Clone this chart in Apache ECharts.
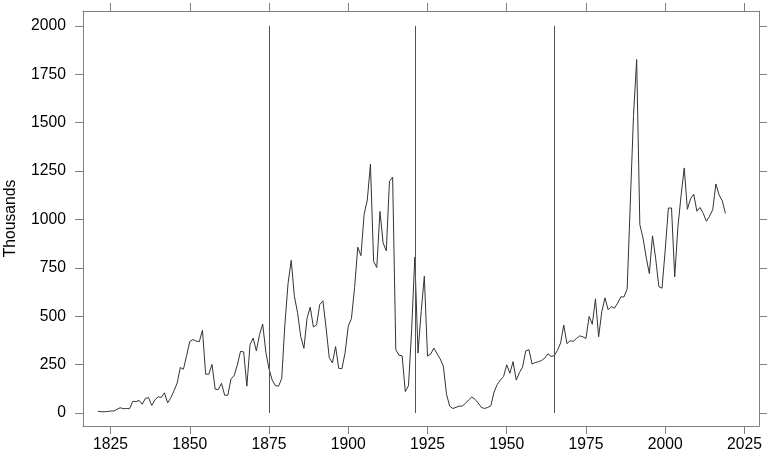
<!DOCTYPE html>
<html>
<head>
<meta charset="utf-8">
<script src="https://cdn.jsdelivr.net/npm/echarts@6/dist/echarts.min.js"></script>
<style>
  html, body { margin: 0; padding: 0; background: #fff; }
  #chart-container { width: 771px; height: 451px; }
</style>
</head>
<body>
<div id="chart-container"></div>
<script>
// immigrants per year, thousands (1821-2019)
var years = [];
for (var y = 1821; y <= 2019; y++) years.push(y);
var thousands = [
  9.1, 6.9, 6.4, 7.9, 10.2, 10.8, 18.9, 27.4, 22.5,
  23.3, 22.6, 60.5, 58.6, 65.4, 45.4, 76.2, 79.3, 38.9, 68.1,
  84.1, 80.3, 104.6, 52.5, 78.6, 114.4, 154.4, 235.0, 226.5, 297.0,
  370.0, 379.5, 371.6, 368.6, 427.8, 200.9, 200.4, 251.3, 123.1, 121.3,
  153.6, 91.9, 92.0, 176.3, 193.4, 248.1, 318.6, 315.7, 138.8, 352.8,
  387.2, 321.4, 404.8, 460.0, 313.3, 227.5, 170.0, 141.9, 138.5, 177.8,
  457.3, 669.4, 789.0, 603.3, 518.6, 395.3, 334.2, 490.1, 547.0, 444.4,
  455.3, 560.3, 579.7, 439.7, 285.6, 258.5, 343.3, 230.8, 229.3, 311.7,
  448.6, 487.9, 648.7, 857.0, 812.9, 1026.5, 1100.7, 1285.3, 782.9, 751.8,
  1041.6, 878.6, 838.2, 1197.9, 1218.5, 326.7, 298.8, 295.4, 110.6, 141.1,
  430.0, 805.2, 309.6, 522.9, 706.9, 294.3, 304.5, 335.2, 307.3, 279.7,
  241.7, 97.1, 35.6, 23.1, 29.5, 35.0, 36.3, 50.2, 67.9, 83.0,
  70.8, 51.8, 28.8, 23.7, 28.6, 38.1, 108.7, 147.3, 170.6, 188.3,
  249.2, 205.7, 265.5, 170.4, 208.2, 237.8, 321.6, 326.9, 253.3, 260.7,
  265.4, 271.3, 283.8, 306.3, 292.2, 297.0, 323.0, 362.0, 454.4, 358.6,
  373.3, 370.5, 384.7, 398.5, 393.9, 385.4, 499.1, 458.8, 589.8, 394.2,
  524.3, 595.0, 533.6, 550.1, 541.8, 568.1, 600.0, 599.9, 641.3, 1090.2,
  1535.9, 1826.6, 973.4, 903.9, 804.0, 720.2, 915.6, 797.8, 653.2, 644.8,
  841.0, 1058.9, 1059.4, 703.5, 957.9, 1122.4, 1266.3, 1052.4, 1107.1, 1130.8,
  1042.6, 1062.0, 1031.6, 990.6, 1016.5, 1051.0, 1183.5, 1127.2, 1096.6, 1031.8
];
// law changes marked with vertical lines
var markYears = [1875, 1921, 1965];
var xTicks = [1825, 1850, 1875, 1900, 1925, 1950, 1975, 2000, 2025];
var yTicks = [0, 250, 500, 750, 1000, 1250, 1500, 1750, 2000];

var dom = document.getElementById('chart-container');
var myChart = echarts.init(dom, null, { renderer: 'canvas' });

var frame = '#808080';
var font = 'Liberation Sans, Arial, sans-serif';
var xMin = 1816.3, xMax = 2029.6, yMin = -67, yMax = 2077;
var plain = function (v) { return String(v); };

function xAx(pos, labels) {
  return {
    type: 'value', position: pos, min: xMin, max: xMax,
    splitLine: { show: false },
    axisLine: { show: true, onZero: false, lineStyle: { color: frame, width: 1 } },
    axisTick: { show: true, length: 8, customValues: xTicks, lineStyle: { color: frame } },
    axisLabel: { show: labels, customValues: xTicks, margin: 11, color: '#000',
                 fontFamily: font, fontSize: 15.7, formatter: plain }
  };
}
function yAx(pos, labels) {
  return {
    type: 'value', position: pos, min: yMin, max: yMax,
    splitLine: { show: false },
    axisLine: { show: true, onZero: false, lineStyle: { color: frame, width: 1 } },
    axisTick: { show: true, length: 8, customValues: yTicks, lineStyle: { color: frame } },
    axisLabel: { show: labels, customValues: yTicks, margin: 17, color: '#000',
                 fontFamily: font, fontSize: 15.7, formatter: plain }
  };
}

var yLeft = yAx('left', true);
yLeft.name = 'Thousands';
yLeft.nameLocation = 'middle';
yLeft.nameGap = 64;
yLeft.nameTextStyle = { color: '#000', fontFamily: font, fontSize: 15.7 };

var option = {
  animation: false,
  grid: { left: 83, right: 12, top: 11, bottom: 25, outerBoundsMode: 'none' },
  xAxis: [xAx('bottom', true), xAx('top', false)],
  yAxis: [yLeft, yAx('right', false)],
  series: [{
    type: 'line',
    data: years.map(function (yr, i) { return [yr, thousands[i]]; }),
    showSymbol: false,
    lineStyle: { color: '#333', width: 1 },
    markLine: {
      symbol: 'none',
      silent: true,
      label: { show: false },
      lineStyle: { color: '#555', width: 1, type: 'solid' },
      data: markYears.map(function (yr) {
        return [{ coord: [yr, 0] }, { coord: [yr, 2000] }];
      })
    }
  }]
};

myChart.setOption(option);
window.addEventListener('resize', myChart.resize);
</script>
</body>
</html>
